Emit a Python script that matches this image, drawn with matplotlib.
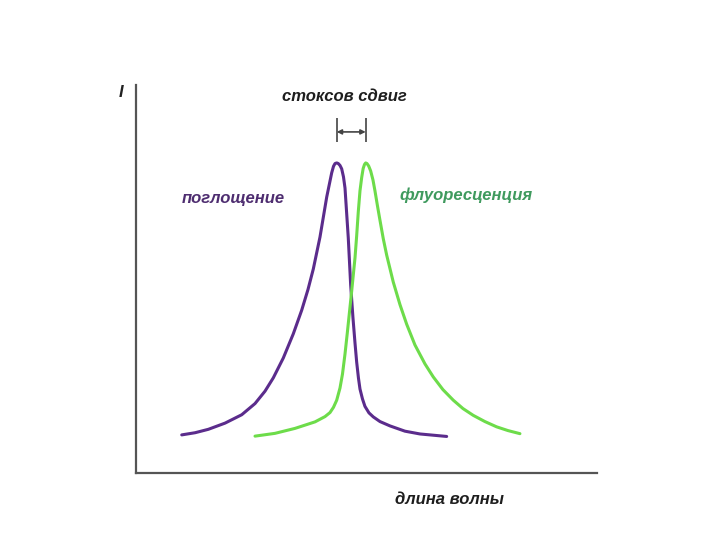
import matplotlib.pyplot as plt

# wavelength (arbitrary units) and intensity (normalised to peak = 1)
abs_wl = [9.91, 12.80, 15.68, 19.31, 22.93, 25.81, 27.98, 29.78, 31.95, 34.12,
          35.94, 37.31, 38.46, 39.91, 41.37, 42.45, 42.84, 43.17, 43.54, 43.88,
          44.25, 44.62, 45.01, 45.34, 46.05, 46.57, 47.07, 47.51, 47.87, 48.26,
          48.59, 49.13, 49.67, 50.54, 51.48, 52.93, 55.10, 58.35, 61.61, 67.40]
abs_int = [0.123, 0.130, 0.141, 0.161, 0.188, 0.224, 0.264, 0.307, 0.371, 0.449,
           0.525, 0.592, 0.658, 0.761, 0.890, 0.968, 0.989, 0.998, 1.0, 0.998,
           0.992, 0.981, 0.955, 0.919, 0.758, 0.606, 0.500, 0.419, 0.358, 0.306,
           0.271, 0.239, 0.215, 0.194, 0.181, 0.166, 0.152, 0.135, 0.126, 0.118]

fl_wl = [25.81, 30.15, 34.49, 38.83, 41.00, 42.08, 42.84, 43.54, 44.25, 44.79,
         45.34, 45.84, 46.31, 46.79, 47.18, 47.51, 47.87, 48.22, 48.59, 48.96,
         49.28, 49.57, 49.83, 50.11, 50.48, 50.91, 51.41, 51.84, 52.39, 52.93,
         53.64, 54.38, 55.81, 57.27, 58.72, 60.52, 62.69, 64.49, 66.59, 68.83,
         70.93, 73.17, 75.70, 78.24, 80.69, 83.30]
fl_int = [0.119, 0.128, 0.144, 0.165, 0.182, 0.195, 0.212, 0.235, 0.274, 0.319,
          0.384, 0.452, 0.519, 0.587, 0.645, 0.694, 0.765, 0.842, 0.910, 0.953,
          0.982, 0.995, 1.0, 0.998, 0.990, 0.974, 0.945, 0.910, 0.861, 0.815,
          0.756, 0.703, 0.616, 0.543, 0.480, 0.413, 0.352, 0.310, 0.269, 0.235,
          0.208, 0.186, 0.166, 0.149, 0.137, 0.127]

peak_abs = 43.54
peak_fl = 49.83

txt = dict(family=['Liberation Sans', 'DejaVu Sans'], fontweight='bold',
           fontstyle='italic', fontsize=12)

fig = plt.figure(figsize=(7.2, 5.4), dpi=100)
ax = fig.add_axes([0.189, 0.124, 0.64, 0.719])

ax.plot(abs_wl, abs_int, color='#5b2c8c', lw=2.2,
        solid_capstyle='round', solid_joinstyle='round')
ax.plot(fl_wl, fl_int, color='#6ddc4a', lw=2.2,
        solid_capstyle='round', solid_joinstyle='round')

ax.set_xlim(0, 100)
ax.set_ylim(0, 1.252)
ax.set_xticks([])
ax.set_yticks([])
for s in ['top', 'right']:
    ax.spines[s].set_visible(False)
for s in ['left', 'bottom']:
    ax.spines[s].set_color('#555555')
    ax.spines[s].set_linewidth(1.6)

# stokes shift marker
ax.annotate('', xy=(peak_fl, 1.10), xytext=(peak_abs, 1.10),
            arrowprops=dict(arrowstyle='<|-|>', color='#444444', lw=1.2,
                            mutation_scale=7, shrinkA=0, shrinkB=0))
ax.vlines([peak_abs, peak_fl], 1.068, 1.145, color='#444444', lw=1.2)

ax.text(-3.3, 1.226, 'I', ha='center', va='center', color='#222222', clip_on=False, **txt)
ax.text(45.1, 1.213, 'стоксов сдвиг', ha='center', va='center', color='#1e1e1e', clip_on=False, **txt)
ax.text(21.0, 0.884, 'поглощение', ha='center', va='center', color='#4e2d70', **txt)
ax.text(71.6, 0.897, 'флуоресценция', ha='center', va='center', color='#3f9a5e', **txt)
ax.text(68.1, -0.084, 'длина волны', ha='center', va='center', color='#1e1e1e', clip_on=False, **txt)

plt.savefig('out.png', dpi=100)
